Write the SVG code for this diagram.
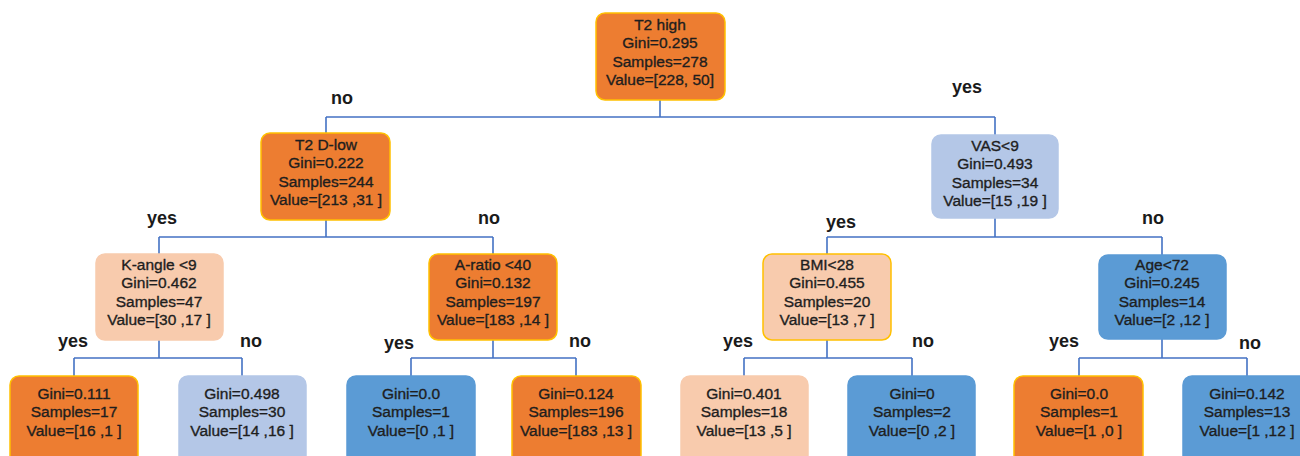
<svg xmlns="http://www.w3.org/2000/svg" width="1300" height="456" viewBox="0 0 1300 456">
<style>
.box{stroke-width:1.5}
.or{fill:#ED7D31;stroke:#FFC000}
.lo{fill:#F8CBAD;stroke:#F8CBAD}
.lob{fill:#F8CBAD;stroke:#FFC000}
.lb{fill:#B4C7E7;stroke:#B4C7E7}
.bl{fill:#5B9BD5;stroke:#5B9BD5}
.t{font-family:"Liberation Sans",Arial,sans-serif;font-size:15.5px;fill:#1e1e1e;stroke:#1e1e1e;stroke-width:0.35;text-anchor:middle}
.lab{font-family:"Liberation Sans","Noto Sans",sans-serif;font-size:18px;font-weight:bold;fill:#1a1a1a;text-anchor:middle}
.c{fill:none;stroke:#4472C4;stroke-width:1.6}
</style>
<rect width="1300" height="456" fill="#ffffff"/>
<g id="connectors">
<path class="c" d="M660 100V117M326 117H995M326 117V133M995 117V135"/>
<path class="c" d="M326 220V237M159 237H493M159 237V254M493 237V254"/>
<path class="c" d="M995 218V237M827 237H1162M827 237V254M1162 237V255"/>
<path class="c" d="M159 340V358M74 358H242M74 358V376M242 358V376"/>
<path class="c" d="M493 340V358M411 358H576M411 358V376M576 358V376"/>
<path class="c" d="M827 340V358M744 358H912M744 358V376M912 358V376"/>
<path class="c" d="M1162 339V358M1079 358H1247M1079 358V376M1247 358V376"/>
</g>
<g id="labels">
<text class="lab" x="342" y="104">no</text>
<text class="lab" x="967" y="93">yes</text>
<text class="lab" x="162" y="224">yes</text>
<text class="lab" x="489" y="224">no</text>
<text class="lab" x="841" y="228">yes</text>
<text class="lab" x="1153" y="224">no</text>
<text class="lab" x="73" y="347">yes</text>
<text class="lab" x="251" y="347">no</text>
<text class="lab" x="399" y="349">yes</text>
<text class="lab" x="580" y="347">no</text>
<text class="lab" x="738" y="347">yes</text>
<text class="lab" x="923" y="347">no</text>
<text class="lab" x="1064" y="347">yes</text>
<text class="lab" x="1250" y="349">no</text>
</g>
<g id="n-root">
<rect class="box or" x="596" y="13" width="129" height="87" rx="9"/>
<text class="t" x="660" y="29.5">T2 high</text>
<text class="t" x="660" y="48">Gini=0.295</text>
<text class="t" x="660" y="66.5">Samples=278</text>
<text class="t" x="660" y="85">Value=[228, 50]</text>
</g>
<g id="n-t2dlow">
<rect class="box or" x="261" y="133" width="129" height="87" rx="9"/>
<text class="t" x="326" y="149.5">T2 D-low</text>
<text class="t" x="326" y="168">Gini=0.222</text>
<text class="t" x="326" y="186.5">Samples=244</text>
<text class="t" x="326" y="205">Value=[213 ,31 ]</text>
</g>
<g id="n-vas">
<rect class="box lb" x="932" y="135" width="126" height="83" rx="9"/>
<text class="t" x="995" y="150.5">VAS&lt;9</text>
<text class="t" x="995" y="169">Gini=0.493</text>
<text class="t" x="995" y="187.5">Samples=34</text>
<text class="t" x="995" y="206">Value=[15 ,19 ]</text>
</g>
<g id="n-kangle">
<rect class="box lo" x="96" y="254" width="127" height="86" rx="9"/>
<text class="t" x="159" y="269.5">K-angle &lt;9</text>
<text class="t" x="159" y="288">Gini=0.462</text>
<text class="t" x="159" y="306.5">Samples=47</text>
<text class="t" x="159" y="325">Value=[30 ,17 ]</text>
</g>
<g id="n-aratio">
<rect class="box or" x="429" y="254" width="128" height="86" rx="9"/>
<text class="t" x="493" y="269.5">A-ratio &lt;40</text>
<text class="t" x="493" y="288">Gini=0.132</text>
<text class="t" x="493" y="306.5">Samples=197</text>
<text class="t" x="493" y="325">Value=[183 ,14 ]</text>
</g>
<g id="n-bmi">
<rect class="box lob" x="763" y="254" width="128" height="86" rx="9"/>
<text class="t" x="827" y="269.5">BMI&lt;28</text>
<text class="t" x="827" y="288">Gini=0.455</text>
<text class="t" x="827" y="306.5">Samples=20</text>
<text class="t" x="827" y="325">Value=[13 ,7 ]</text>
</g>
<g id="n-age">
<rect class="box bl" x="1099" y="255" width="127" height="84" rx="9"/>
<text class="t" x="1162" y="269.5">Age&lt;72</text>
<text class="t" x="1162" y="288">Gini=0.245</text>
<text class="t" x="1162" y="306.5">Samples=14</text>
<text class="t" x="1162" y="325">Value=[2 ,12 ]</text>
</g>
<g id="n-leaf1">
<rect class="box or" x="10" y="376" width="128" height="88" rx="9"/>
<text class="t" x="74" y="398.5">Gini=0.111</text>
<text class="t" x="74" y="417">Samples=17</text>
<text class="t" x="74" y="435.5">Value=[16 ,1 ]</text>
</g>
<g id="n-leaf2">
<rect class="box lb" x="179" y="376" width="127" height="88" rx="9"/>
<text class="t" x="242" y="398.5">Gini=0.498</text>
<text class="t" x="242" y="417">Samples=30</text>
<text class="t" x="242" y="435.5">Value=[14 ,16 ]</text>
</g>
<g id="n-leaf3">
<rect class="box bl" x="347" y="376" width="128" height="88" rx="9"/>
<text class="t" x="411" y="398.5">Gini=0.0</text>
<text class="t" x="411" y="417">Samples=1</text>
<text class="t" x="411" y="435.5">Value=[0 ,1 ]</text>
</g>
<g id="n-leaf4">
<rect class="box or" x="512" y="376" width="129" height="88" rx="9"/>
<text class="t" x="576" y="398.5">Gini=0.124</text>
<text class="t" x="576" y="417">Samples=196</text>
<text class="t" x="576" y="435.5">Value=[183 ,13 ]</text>
</g>
<g id="n-leaf5">
<rect class="box lo" x="681" y="376" width="127" height="88" rx="9"/>
<text class="t" x="744" y="398.5">Gini=0.401</text>
<text class="t" x="744" y="417">Samples=18</text>
<text class="t" x="744" y="435.5">Value=[13 ,5 ]</text>
</g>
<g id="n-leaf6">
<rect class="box bl" x="848" y="376" width="127" height="88" rx="9"/>
<text class="t" x="912" y="398.5">Gini=0</text>
<text class="t" x="912" y="417">Samples=2</text>
<text class="t" x="912" y="435.5">Value=[0 ,2 ]</text>
</g>
<g id="n-leaf7">
<rect class="box or" x="1014" y="376" width="129" height="88" rx="9"/>
<text class="t" x="1079" y="398.5">Gini=0.0</text>
<text class="t" x="1079" y="417">Samples=1</text>
<text class="t" x="1079" y="435.5">Value=[1 ,0 ]</text>
</g>
<g id="n-leaf8">
<rect class="box bl" x="1183" y="376" width="128" height="88" rx="9"/>
<text class="t" x="1247" y="398.5">Gini=0.142</text>
<text class="t" x="1247" y="417">Samples=13</text>
<text class="t" x="1247" y="435.5">Value=[1 ,12 ]</text>
</g>
</svg>
